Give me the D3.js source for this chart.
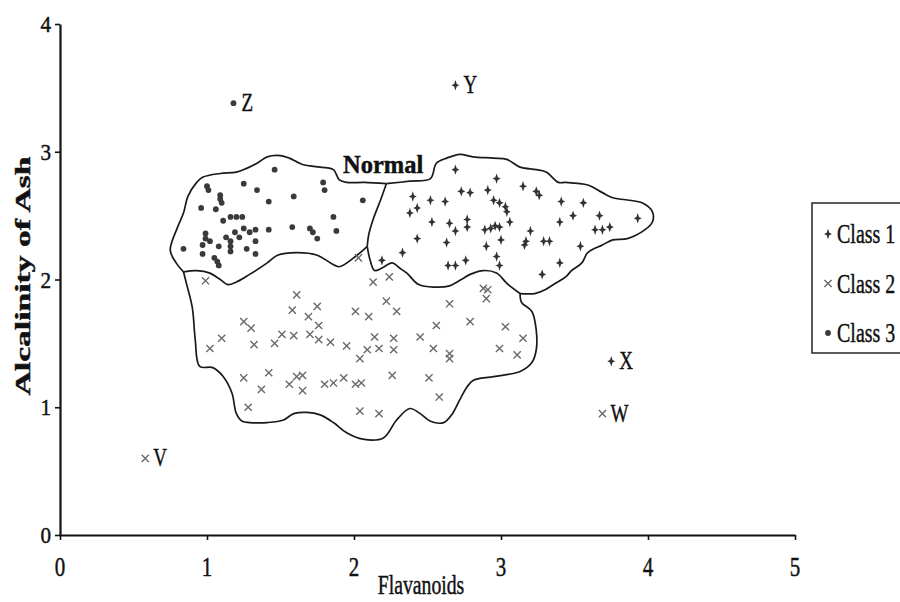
<!DOCTYPE html>
<html>
<head>
<meta charset="utf-8">
<script src="https://cdn.jsdelivr.net/npm/d3@7"></script>
<style>
  html, body { margin: 0; padding: 0; background: #fff; overflow: hidden; }
  text { font-family: "Liberation Serif", "Times New Roman", serif; fill: #111; stroke: #111; stroke-width: 0.45; }
</style>
</head>
<body>
<svg id="chart" width="900" height="602"></svg>
<script>
// Axis ticks
const xTicks = [0, 1, 2, 3, 4, 5];
const yTicks = [0, 1, 2, 3, 4];

// Observations: [Flavanoids, Alcalinity of Ash]
const class1 = [
  [2.69,2.86],[2.97,2.79],[3.15,2.73],[3.24,2.69],[3.26,2.66],[2.73,2.69],[2.79,2.68],[2.91,2.70],
  [2.40,2.65],[2.52,2.62],[2.62,2.61],[2.95,2.62],[2.99,2.60],[3.03,2.57],[3.04,2.53],[2.43,2.56],
  [2.38,2.52],[3.41,2.61],[3.56,2.60],[3.49,2.50],[3.67,2.50],[3.93,2.48],[2.53,2.45],[2.65,2.44],
  [2.69,2.38],[2.77,2.47],[2.77,2.41],[2.89,2.39],[2.93,2.40],[2.96,2.42],[2.99,2.41],[3.06,2.45],
  [3.20,2.38],[3.40,2.45],[3.64,2.39],[3.69,2.39],[3.74,2.41],[2.43,2.32],[2.63,2.29],[2.90,2.26],
  [3.00,2.31],[3.16,2.27],[3.17,2.30],[3.29,2.30],[3.33,2.30],[3.54,2.26],[2.33,2.21],[2.19,2.15],
  [2.64,2.11],[2.69,2.11],[2.76,2.15],[2.97,2.18],[2.99,2.11],[3.40,2.13],[3.28,2.04]
];
const class2 = [
  [0.99,1.99],[2.03,2.17],[1.61,1.88],[1.58,1.76],[1.75,1.79],[1.69,1.71],[1.76,1.64],[1.25,1.67],
  [1.30,1.62],[2.01,1.75],[2.10,1.71],[1.10,1.54],[1.02,1.46],[1.32,1.49],[1.46,1.50],[1.51,1.57],
  [1.59,1.56],[1.70,1.57],[1.76,1.53],[1.84,1.51],[1.95,1.48],[2.04,1.38],[2.09,1.45],[1.25,1.23],
  [1.42,1.27],[1.37,1.14],[1.56,1.18],[1.61,1.24],[1.65,1.25],[1.65,1.13],[1.80,1.18],[1.86,1.19],
  [1.93,1.23],[2.01,1.18],[2.05,1.19],[1.28,1.00],[2.04,0.97],[2.13,1.98],[2.24,2.02],[2.22,1.83],
  [2.29,1.75],[2.14,1.55],[2.17,1.46],[2.27,1.54],[2.27,1.45],[2.26,1.25],[2.17,0.95],[2.65,1.81],
  [2.56,1.64],[2.45,1.55],[2.54,1.46],[2.65,1.42],[2.65,1.38],[2.79,1.67],[2.51,1.23],[2.58,1.08],
  [2.88,1.93],[2.91,1.92],[2.90,1.85],[3.03,1.63],[3.15,1.54],[2.99,1.46],[3.11,1.41]
];
const class3 = [
  [1.46,2.86],[1.25,2.75],[1.34,2.70],[1.00,2.73],[1.01,2.70],[1.09,2.66],[1.09,2.63],[1.10,2.60],
  [0.96,2.56],[1.06,2.55],[1.42,2.61],[1.59,2.65],[1.79,2.76],[1.80,2.70],[2.06,2.62],[1.11,2.46],
  [1.16,2.49],[1.20,2.49],[1.24,2.49],[1.86,2.49],[1.25,2.40],[1.29,2.37],[1.33,2.39],[1.42,2.39],
  [1.58,2.41],[1.70,2.40],[1.72,2.37],[1.75,2.32],[1.88,2.38],[0.99,2.36],[0.99,2.32],[0.97,2.27],
  [0.84,2.24],[1.13,2.33],[1.16,2.30],[1.19,2.37],[1.16,2.26],[1.08,2.26],[1.33,2.30],[1.27,2.24],
  [0.97,2.20],[1.05,2.17],[1.07,2.14],[1.08,2.11],[1.16,2.22],[1.22,2.33],[1.02,2.30],[1.33,2.20]
];

// Labelled outlying samples
const outlierNames = ["V", "W", "X", "Y", "Z"];
const outlierClass = [2, 2, 1, 1, 3];
const outlierX = [0.58, 3.69, 3.75, 2.69, 1.18];
const outlierY = [0.60, 0.95, 1.36, 3.52, 3.38];

// Boundary edges of the "Normal" region (data units)
const edgeClass3Outer = [
  [2.22,2.75],[2.07,2.76],[1.95,2.76],[1.90,2.78],[1.86,2.86],[1.77,2.88],[1.65,2.90],[1.56,2.95],
  [1.50,2.97],[1.41,2.96],[1.34,2.91],[1.27,2.87],[1.20,2.84],[1.09,2.83],[0.97,2.80],[0.93,2.76],
  [0.87,2.65],[0.84,2.52],[0.80,2.41],[0.75,2.23],[0.79,2.13],[0.84,2.06]
];
const edgeDivider31 = [[2.22,2.75],[2.18,2.62],[2.13,2.47],[2.10,2.35],[2.09,2.26]];
const edgeShared32 = [
  [0.84,2.06],[0.93,2.07],[1.02,2.05],[1.09,2.00],[1.14,1.96],[1.20,1.98],[1.29,2.04],[1.41,2.13],
  [1.48,2.19],[1.61,2.21],[1.75,2.19],[1.84,2.13],[1.90,2.10],[2.02,2.19],[2.09,2.26]
];
const edgeShared12 = [
  [2.09,2.26],[2.11,2.15],[2.14,2.07],[2.19,2.09],[2.26,2.13],[2.31,2.09],[2.36,2.05],[2.44,1.96],
  [2.55,1.94],[2.65,1.95],[2.73,2.00],[2.79,2.04],[2.88,2.07],[2.97,2.05],[3.04,1.97],[3.13,1.89]
];
const edgeClass1Outer = [
  [3.13,1.89],[3.23,1.89],[3.30,1.92],[3.37,1.97],[3.44,2.02],[3.48,2.07],[3.55,2.13],[3.59,2.21],
  [3.69,2.27],[3.76,2.31],[3.86,2.32],[3.98,2.39],[4.03,2.45],[4.03,2.53],[3.96,2.60],[3.76,2.64],
  [3.69,2.68],[3.59,2.74],[3.44,2.76],[3.39,2.76],[3.31,2.84],[3.24,2.86],[3.13,2.88],[3.04,2.94],
  [2.95,2.95],[2.81,2.96],[2.72,2.98],[2.63,2.95],[2.56,2.91],[2.52,2.79],[2.38,2.77],[2.22,2.75]
];
const edgeClass2Outer = [
  [3.13,1.89],[3.14,1.82],[3.21,1.75],[3.24,1.60],[3.24,1.45],[3.21,1.35],[3.13,1.28],[2.95,1.24],
  [2.81,1.21],[2.77,1.16],[2.72,1.06],[2.67,0.95],[2.61,0.88],[2.52,0.89],[2.45,0.95],[2.38,0.99],
  [2.29,0.90],[2.20,0.76],[2.06,0.75],[1.95,0.80],[1.86,0.88],[1.77,0.94],[1.68,0.96],[1.59,0.95],
  [1.52,0.90],[1.41,0.88],[1.29,0.88],[1.24,0.89],[1.20,0.95],[1.17,1.11],[1.11,1.24],[1.04,1.31],
  [0.95,1.32],[0.92,1.53],[0.90,1.78],[0.86,1.97],[0.84,2.06]
];

// Legend entries
const legendLabels = ["Class 1", "Class 2", "Class 3"];
const legendClass = [1, 2, 3];

const svg = d3.select("#chart");
const x = d3.scaleLinear().domain([0, 5]).range([60, 795]);
const y = d3.scaleLinear().domain([0, 4]).range([535, 24]);

// Text helper: horizontally condensed serif text
function addText(g, str, px, py, size, sx, anchor, weight) {
  return g.append("text")
    .attr("transform", `translate(${px},${py}) scale(${sx},1)`)
    .attr("text-anchor", anchor || "start")
    .attr("font-size", size)
    .attr("font-weight", weight || "normal")
    .text(str);
}

// Marker shapes
const starPath = "M0,-5.2 L1.3,-1.3 L4,0 L1.3,1.3 L0,5.2 L-1.3,1.3 L-4,0 L-1.3,-1.3 Z";
function drawMarker(g, cls, cx, cy) {
  if (cls === 1) {
    g.append("path").attr("d", starPath)
      .attr("transform", `translate(${cx},${cy})`)
      .attr("fill", "#333");
  } else if (cls === 2) {
    const s = 3.6;
    g.append("path")
      .attr("d", `M${-s},${-s}L${s},${s}M${-s},${s}L${s},${-s}`)
      .attr("transform", `translate(${cx},${cy})`)
      .attr("stroke", "#6a6a6a").attr("stroke-width", 1.4).attr("fill", "none");
  } else {
    g.append("circle").attr("cx", cx).attr("cy", cy).attr("r", 2.9).attr("fill", "#3a3a3a");
  }
}

// Region boundaries
const edge = d3.line()
  .x(d => x(d[0])).y(d => y(d[1]))
  .curve(d3.curveCatmullRom.alpha(0.5));
const gEdges = svg.append("g")
  .attr("fill", "none").attr("stroke", "#1a1a1a").attr("stroke-width", 1.7)
  .attr("stroke-linejoin", "round");
[edgeClass3Outer, edgeDivider31, edgeShared32, edgeShared12, edgeClass1Outer, edgeClass2Outer]
  .forEach(e => gEdges.append("path").attr("d", edge(e)));

// Points
const gPts = svg.append("g");
class2.forEach(d => drawMarker(gPts, 2, x(d[0]), y(d[1])));
class1.forEach(d => drawMarker(gPts, 1, x(d[0]), y(d[1])));
class3.forEach(d => drawMarker(gPts, 3, x(d[0]), y(d[1])));

// Outliers with their names
const gOut = svg.append("g");
outlierNames.forEach((n, i) => {
  const px = x(outlierX[i]), py = y(outlierY[i]);
  drawMarker(gOut, outlierClass[i], px, py);
  addText(gOut, n, px + 8, py + 8, 25, 0.76, "start");
});

// "Normal" region label
addText(svg, "Normal", 343, 173, 25, 0.98, "start", "bold");

// Axes
const axisColor = "#111";
const gx = svg.append("g").attr("transform", `translate(0,${y(0)})`)
  .call(d3.axisBottom(x).tickValues(xTicks).tickSize(5).tickSizeOuter(0).tickFormat(""));
const gy = svg.append("g").attr("transform", `translate(${x(0)},0)`)
  .call(d3.axisLeft(y).tickValues(yTicks).tickSize(5).tickSizeOuter(0).tickFormat(""));
[gx, gy].forEach(g => {
  g.select(".domain").attr("stroke", axisColor).attr("stroke-width", 2.2);
  g.selectAll(".tick line").attr("stroke", axisColor).attr("stroke-width", 1.6);
});

// Tick labels
xTicks.forEach(v => addText(svg, String(v), x(v), 576, 28, 0.75, "middle"));
yTicks.forEach(v => addText(svg, String(v), 51, y(v) + 8, 23, 0.92, "end"));

// Axis titles
addText(svg, "Flavanoids", 421, 594, 27, 0.73, "middle");
svg.append("text")
  .attr("transform", "translate(30,276) rotate(-90) scale(1.6,1)")
  .attr("text-anchor", "middle")
  .attr("font-size", 21)
  .attr("font-weight", "bold")
  .text("Alcalinity of Ash");

// Legend
const gLeg = svg.append("g");
gLeg.append("rect").attr("x", 812).attr("y", 203).attr("width", 100).attr("height", 150)
  .attr("fill", "#fff").attr("stroke", "#333").attr("stroke-width", 1.6);
const legY = d3.scalePoint().domain(legendLabels).range([234, 333]);
legendLabels.forEach((lab, i) => {
  const ly = legY(lab);
  drawMarker(gLeg, legendClass[i], 828, ly);
  addText(gLeg, lab, 837, ly + 9, 27, 0.74, "start");
});
</script>
</body>
</html>
